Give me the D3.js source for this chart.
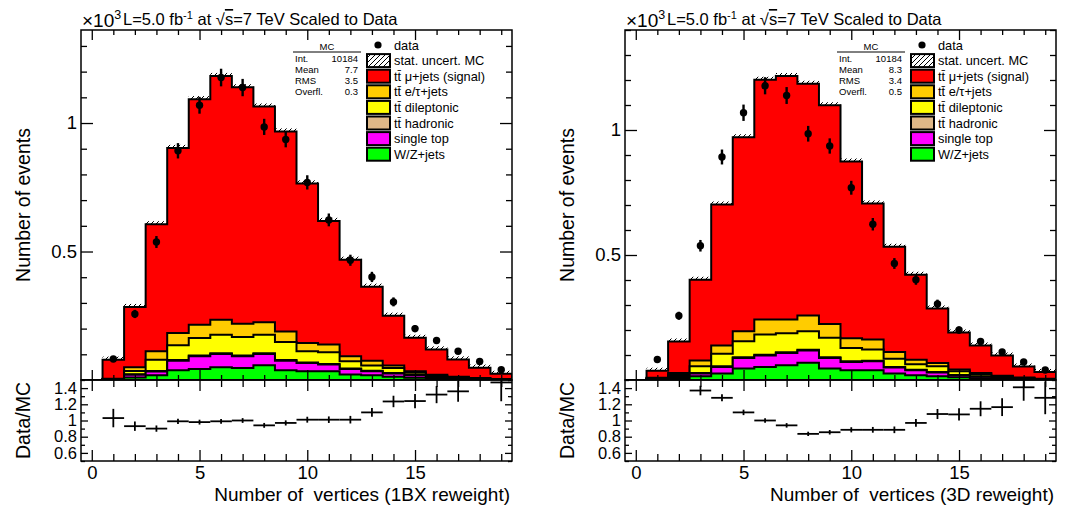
<!DOCTYPE html>
<html lang="en">
<head>
<meta charset="UTF-8">
<script src="https://cdnjs.cloudflare.com/ajax/libs/d3/7.8.5/d3.min.js"></script>
<title>Number of vertices</title>
<style>
  body { margin: 0; background: #fff; }
  text { font-family: "Liberation Sans", Arial, Helvetica, sans-serif; }
</style>
</head>
<body>
<script>
// bins: number of primary vertices
const nVtx = [0,1,2,3,4,5,6,7,8,9,10,11,12,13,14,15,16,17,18,19];

// data (x10^3 events), same in both panels
const dataVal = [0,0.082,0.257,0.537,0.892,1.069,1.177,1.138,0.985,0.936,0.769,0.623,0.466,0.401,0.304,0.200,0.154,0.112,0.072,0.040];

// MC, 1BX reweight (x10^3)
const wzL   = [0,0.002,0.010,0.018,0.038,0.043,0.050,0.047,0.057,0.038,0.034,0.034,0.021,0.018,0.013,0.009,0.005,0.003,0.002,0.001];
const stopL = [0,0.001,0.010,0.015,0.037,0.049,0.051,0.045,0.044,0.037,0.032,0.026,0.022,0.016,0.012,0.009,0.005,0.003,0.002,0.001];
const hadL  = [0,0,0.002,0.002,0.003,0.003,0.003,0.003,0.003,0.003,0.002,0.002,0.002,0.002,0.002,0.001,0.001,0.001,0,0];
const dilL  = [0,0.001,0.013,0.044,0.057,0.068,0.072,0.072,0.072,0.070,0.044,0.046,0.028,0.020,0.020,0.009,0.005,0.003,0.002,0.001];
const etauL = [0,0.001,0.015,0.033,0.048,0.052,0.058,0.052,0.049,0.041,0.032,0.030,0.019,0.019,0.009,0.006,0.004,0.003,0.002,0.001];
const mujL  = [0,0.074,0.234,0.494,0.720,0.878,0.949,0.920,0.839,0.778,0.621,0.481,0.376,0.288,0.194,0.130,0.099,0.067,0.040,0.020];
const ratioL = [null,1.03,0.93,0.90,0.99,0.98,0.99,1.00,0.94,0.97,1.01,1.01,1.01,1.10,1.235,1.24,1.32,1.36,null,1.47];

// MC, 3D reweight (x10^3)
const wzR   = [0,0.003,0.008,0.015,0.026,0.046,0.052,0.059,0.069,0.046,0.039,0.039,0.026,0.019,0.015,0.011,0.007,0.004,0.002,0.001];
const stopR = [0,0.002,0.007,0.011,0.026,0.042,0.046,0.049,0.049,0.042,0.033,0.036,0.024,0.020,0.015,0.008,0.006,0.004,0.003,0.001];
const hadR  = [0,0,0.001,0.002,0.003,0.003,0.003,0.003,0.003,0.003,0.003,0.002,0.002,0.002,0.002,0.001,0.001,0.001,0,0];
const dilR  = [0,0.002,0.006,0.027,0.050,0.064,0.081,0.076,0.074,0.078,0.053,0.045,0.033,0.022,0.023,0.015,0.008,0.004,0.003,0.002];
const etauR = [0,0.002,0.006,0.023,0.033,0.040,0.060,0.055,0.063,0.055,0.039,0.040,0.027,0.018,0.013,0.007,0.006,0.004,0.002,0.001];
const mujR  = [0,0.028,0.126,0.323,0.564,0.776,0.959,0.974,0.927,0.875,0.707,0.544,0.421,0.340,0.218,0.148,0.110,0.081,0.044,0.027];
const ratioR = [null,null,null,1.37,1.28,1.10,1.00,0.94,0.835,0.855,0.885,0.885,0.885,0.97,1.08,1.075,1.145,1.165,1.41,1.28];

const mcStatErr = 0.012;

const statsL = [["Int.","10184"],["Mean","7.7"],["RMS","3.5"],["Overfl.","0.3"]];
const statsR = [["Int.","10184"],["Mean","8.3"],["RMS","3.4"],["Overfl.","0.5"]];

const keys = ['wz','stop','had','dil','etau','muj'];
const colors = {muj:'#ff0000', etau:'#ffcc00', dil:'#ffff00', had:'#dfb887', stop:'#ff00ff', wz:'#00ff00'};
const legendRows = [
  ['data','data'],
  ['stat','stat. uncert. MC'],
  ['muj','tt\u0304 \u03bc+jets (signal)'],
  ['etau','tt\u0304 e/\u03c4+jets'],
  ['dil','tt\u0304 dileptonic'],
  ['had','tt\u0304 hadronic'],
  ['stop','single top'],
  ['wz','W/Z+jets']
];

const W = 1065, H = 506;
const yTop = 30, mainBot = 380, ratBot = 461, pw = 431;

const svg = d3.select('body').append('svg').attr('width', W).attr('height', H);
const defs = svg.append('defs');
const pat = defs.append('pattern').attr('id','hatch').attr('patternUnits','userSpaceOnUse')
  .attr('width',5).attr('height',5);
pat.append('rect').attr('width',5).attr('height',5).attr('fill','#fff');
pat.append('path').attr('d','M-1,1 l2,-2 M0,5 l5,-5 M4,6 l2,-2').attr('stroke','#000').attr('stroke-width',1);

function panel(id, x0, comps, ratio, yMax, stats, xTitle) {
  const g = svg.append('g');
  const x = d3.scaleLinear().domain([-0.5, 19.5]).range([x0, x0 + pw]);
  const y = d3.scaleLinear().domain([0, yMax]).range([mainBot, yTop]);
  const yr = d3.scaleLinear().domain([0.5, 1.5]).range([ratBot, mainBot]);

  defs.append('clipPath').attr('id','cm'+id).append('rect')
    .attr('x',x0).attr('y',yTop).attr('width',pw).attr('height',mainBot-yTop);
  defs.append('clipPath').attr('id','cr'+id).append('rect')
    .attr('x',x0).attr('y',mainBot).attr('width',pw).attr('height',ratBot-mainBot);

  const table = nVtx.map((b,i) => {
    const o = {bin:b};
    keys.forEach(k => o[k] = comps[k][i]);
    return o;
  });
  const layers = d3.stack().keys(keys)(table);
  const total = layers[layers.length-1].map(d => d[1]);

  const main = g.append('g').attr('clip-path','url(#cm'+id+')');

  // stat. uncertainty hatch on top of the stack
  main.selectAll('rect.hatch').data(nVtx.filter(b => total[b] > 0)).enter()
    .append('rect')
    .attr('x', b => x(b-0.5)).attr('width', b => x(b+0.5)-x(b-0.5))
    .attr('y', b => y(total[b] + mcStatErr))
    .attr('height', b => y(total[b]) - y(total[b] + mcStatErr))
    .attr('fill','url(#hatch)');

  const step = vals => {
    const pts = [[-0.5, 0]];
    vals.forEach((v,i) => { pts.push([nVtx[i]-0.5, v]); pts.push([nVtx[i]+0.5, v]); });
    pts.push([19.5, 0]);
    return pts;
  };
  const area = d3.area().x(d => x(d[0])).y0(y(0)).y1(d => y(d[1]));

  layers.slice().reverse().forEach(layer => {
    main.append('path')
      .attr('d', area(step(layer.map(d => d[1]))))
      .attr('fill', colors[layer.key])
      .attr('stroke','#000').attr('stroke-width',2).attr('stroke-linejoin','miter');
  });

  // data points
  const pts = nVtx.filter(b => dataVal[b] > 0);
  const err = b => Math.sqrt(dataVal[b]*1000)/1000;
  main.selectAll('line.err').data(pts).enter().append('line')
    .attr('x1', b => x(b)).attr('x2', b => x(b))
    .attr('y1', b => y(dataVal[b]-err(b))).attr('y2', b => y(dataVal[b]+err(b)))
    .attr('stroke','#000').attr('stroke-width',2.4);
  main.selectAll('circle').data(pts).enter().append('circle')
    .attr('cx', b => x(b)).attr('cy', b => y(dataVal[b])).attr('r',3.7).attr('fill','#000');

  // ratio
  const rg = g.append('g').attr('clip-path','url(#cr'+id+')');
  const rb = nVtx.filter(b => ratio[b] !== null);
  const rerr = b => ratio[b] / Math.sqrt(dataVal[b]*1000);
  rg.selectAll('line.h').data(rb).enter().append('line')
    .attr('x1', b => x(b-0.5)).attr('x2', b => x(b+0.5))
    .attr('y1', b => yr(ratio[b])).attr('y2', b => yr(ratio[b]))
    .attr('stroke','#000').attr('stroke-width',1.8);
  rg.selectAll('line.v').data(rb).enter().append('line')
    .attr('x1', b => x(b)).attr('x2', b => x(b))
    .attr('y1', b => yr(ratio[b]-rerr(b))).attr('y2', b => yr(ratio[b]+rerr(b)))
    .attr('stroke','#000').attr('stroke-width',1.8);

  // axes
  const style = (sel, fs) => {
    sel.select('.domain').remove();
    sel.selectAll('line').attr('stroke','#000').attr('stroke-width',1.3);
    sel.attr('font-family','"Liberation Sans", Arial, sans-serif').attr('font-size', fs || 18);
    sel.selectAll('text').attr('fill','#000');
    return sel;
  };
  const xMaj = [0,5,10,15], xMin = nVtx.filter(b => b % 5 !== 0);
  const yMaj = [0.5, 1];
  const yMin = d3.range(1, Math.floor(yMax*10)+1).map(v => v/10).filter(v => v !== 0.5 && v !== 1);
  const rMaj = [0.6,0.8,1,1.2,1.4], rMin = [0.5,0.7,0.9,1.1,1.3,1.5];

  // main panel x ticks (top & bottom)
  style(g.append('g').attr('transform',`translate(0,${yTop})`).call(d3.axisTop(x).tickValues(xMaj).tickSizeInner(-10).tickSizeOuter(0).tickFormat('')));
  style(g.append('g').attr('transform',`translate(0,${yTop})`).call(d3.axisTop(x).tickValues(xMin).tickSizeInner(-5).tickSizeOuter(0).tickFormat('')));
  style(g.append('g').attr('transform',`translate(0,${mainBot})`).call(d3.axisBottom(x).tickValues(xMaj).tickSizeInner(-10).tickSizeOuter(0).tickFormat('')));
  style(g.append('g').attr('transform',`translate(0,${mainBot})`).call(d3.axisBottom(x).tickValues(xMin).tickSizeInner(-5).tickSizeOuter(0).tickFormat('')));
  // ratio x ticks
  style(g.append('g').attr('transform',`translate(0,${mainBot})`).call(d3.axisTop(x).tickValues(xMaj).tickSizeInner(-11).tickSizeOuter(0).tickFormat('')));
  style(g.append('g').attr('transform',`translate(0,${mainBot})`).call(d3.axisTop(x).tickValues(xMin).tickSizeInner(-7).tickSizeOuter(0).tickFormat('')));
  style(g.append('g').attr('transform',`translate(0,${ratBot})`).call(d3.axisBottom(x).tickValues(xMaj).tickSizeInner(-11).tickSizeOuter(0).tickPadding(5).tickFormat(d3.format('d'))), 18.5);
  style(g.append('g').attr('transform',`translate(0,${ratBot})`).call(d3.axisBottom(x).tickValues(xMin).tickSizeInner(-7).tickSizeOuter(0).tickFormat('')));

  // main panel y ticks
  style(g.append('g').attr('transform',`translate(${x0},0)`).call(d3.axisLeft(y).tickValues(yMaj).tickSizeInner(-12).tickSizeOuter(0).tickPadding(4).tickFormat(d3.format(''))), 18.5);
  style(g.append('g').attr('transform',`translate(${x0},0)`).call(d3.axisLeft(y).tickValues(yMin).tickSizeInner(-6).tickSizeOuter(0).tickFormat('')));
  style(g.append('g').attr('transform',`translate(${x0+pw},0)`).call(d3.axisRight(y).tickValues(yMaj).tickSizeInner(-12).tickSizeOuter(0).tickFormat('')));
  style(g.append('g').attr('transform',`translate(${x0+pw},0)`).call(d3.axisRight(y).tickValues(yMin).tickSizeInner(-6).tickSizeOuter(0).tickFormat('')));
  // ratio y ticks (labels sit tight, as in the original)
  style(g.append('g').attr('transform',`translate(${x0},0)`).call(d3.axisLeft(yr).tickValues(rMaj).tickSizeInner(-7).tickSizeOuter(0).tickPadding(4).tickFormat(d3.format(''))), 16.5);
  style(g.append('g').attr('transform',`translate(${x0},0)`).call(d3.axisLeft(yr).tickValues(rMin).tickSizeInner(-4).tickSizeOuter(0).tickFormat('')));
  style(g.append('g').attr('transform',`translate(${x0+pw},0)`).call(d3.axisRight(yr).tickValues(rMaj).tickSizeInner(-7).tickSizeOuter(0).tickFormat('')));
  style(g.append('g').attr('transform',`translate(${x0+pw},0)`).call(d3.axisRight(yr).tickValues(rMin).tickSizeInner(-4).tickSizeOuter(0).tickFormat('')));

  // frames
  g.append('rect').attr('x',x0).attr('y',yTop).attr('width',pw).attr('height',mainBot-yTop)
    .attr('fill','none').attr('stroke','#000').attr('stroke-width',1.5);
  g.append('rect').attr('x',x0).attr('y',mainBot).attr('width',pw).attr('height',ratBot-mainBot)
    .attr('fill','none').attr('stroke','#000').attr('stroke-width',1.5);

  // titles
  g.append('text').attr('transform',`translate(${x0-51},${(yTop+mainBot)/2}) rotate(-90)`)
    .attr('text-anchor','middle').attr('font-size',19.5).text('Number of events');
  g.append('text').attr('transform',`translate(${x0-51},${(mainBot+ratBot)/2}) rotate(-90)`)
    .attr('text-anchor','middle').attr('font-size',19.5).text('Data/MC');
  g.append('text').attr('x',x0+pw-2).attr('y',501).attr('text-anchor','end')
    .style('white-space','pre').attr('font-size',19).text(xTitle);

  const t1 = g.append('text').attr('x',x0+1).attr('y',27).attr('font-size',19);
  t1.append('tspan').text('\u00d710');
  t1.append('tspan').attr('dy',-8).attr('font-size',12.5).text('3');
  const t2 = g.append('text').attr('x',x0+42).attr('y',25).attr('font-size',16.5);
  t2.append('tspan').text('L=5.0 fb');
  t2.append('tspan').attr('dy',-6).attr('font-size',11).text('-1');
  t2.append('tspan').attr('dy',6).text(' at \u221a');
  t2.append('tspan').attr('text-decoration','overline').text('s');
  t2.append('tspan').text('=7 TeV Scaled to Data');

  // stats box
  const sg = g.append('g').attr('font-size',9.5);
  sg.append('text').attr('x',x0+246).attr('y',50).attr('text-anchor','middle').text('MC');
  sg.append('line').attr('x1',x0+212).attr('x2',x0+280).attr('y1',52).attr('y2',52)
    .attr('stroke','#000').attr('stroke-width',1);
  stats.forEach((s,j) => {
    sg.append('text').attr('x',x0+214).attr('y',62+j*10.9).text(s[0]);
    sg.append('text').attr('x',x0+277).attr('y',62+j*10.9).attr('text-anchor','end').text(s[1]);
  });

  // legend
  const lg = g.append('g');
  legendRows.forEach((r,i) => {
    const cy = 45 + i*15.6;
    if (r[0] === 'data') {
      lg.append('circle').attr('cx',x0+297).attr('cy',cy).attr('r',3.6).attr('fill','#000');
    } else {
      lg.append('rect').attr('x',x0+286).attr('y',cy-6.5).attr('width',23).attr('height',13)
        .attr('fill', r[0] === 'stat' ? 'url(#hatch)' : colors[r[0]])
        .attr('stroke','#000').attr('stroke-width',2);
    }
    lg.append('text').attr('x',x0+313).attr('y',cy+4.5).attr('font-size',12.8).text(r[1]);
  });
}

panel('L', 81, {wz:wzL, stop:stopL, had:hadL, dil:dilL, etau:etauL, muj:mujL}, ratioL, 1.362, statsL,
  'Number of  vertices (1BX reweight)');
panel('R', 625, {wz:wzR, stop:stopR, had:hadR, dil:dilR, etau:etauR, muj:mujR}, ratioR, 1.40, statsR,
  'Number of  vertices (3D reweight)');
</script>
</body>
</html>
